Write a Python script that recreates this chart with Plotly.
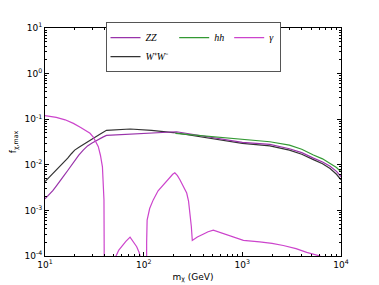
import plotly.graph_objects as go

# W+W- channel
m_ww = [10, 11, 12, 13, 14.2, 15.5, 17, 18.5, 20, 22.5, 25, 28, 31, 36, 42, 55, 73, 120, 200,
        1000, 1900, 3000, 4000, 5250, 6500, 7750, 9000, 10000]
f_ww = [0.0043, 0.0053, 0.0063, 0.0076, 0.0091, 0.011, 0.014, 0.0175, 0.021, 0.025, 0.029, 0.034, 0.038, 0.047, 0.057, 0.059, 0.061, 0.057, 0.051,
        0.0295, 0.026, 0.021, 0.017, 0.013, 0.0105, 0.0083, 0.0062, 0.0047]

# ZZ channel
m_zz = [10, 11, 12, 13, 14.2, 15.5, 17, 18.5, 20, 22, 24.4, 27, 30, 33, 36, 39, 42, 215,
        1000, 1900, 3000, 4000, 5250, 6500, 7750, 9000, 10000]
f_zz = [0.0018, 0.0022, 0.0027, 0.0034, 0.0043, 0.0057, 0.0075, 0.0097, 0.012, 0.0163, 0.021, 0.026, 0.030, 0.034, 0.037, 0.041, 0.044, 0.053,
        0.031, 0.028, 0.0225, 0.0185, 0.014, 0.0115, 0.0093, 0.0072, 0.0055]

# hh channel
m_hh = [210, 1000, 1900, 3000, 4000, 5250, 6500, 7750, 9000, 10000]
f_hh = [0.049, 0.036, 0.032, 0.027, 0.022, 0.0164, 0.0135, 0.0107, 0.0087, 0.007]

# gamma channel (1e-9 = vanishing)
m_gam = [10, 13, 16, 19.4, 23, 26, 28.6, 31, 33, 34.7, 36.5, 38.2, 39.6, 40.2, 40.5, 40.7,
         51, 52.5, 56, 60, 66, 72.8, 79, 85, 90, 91.8, 93,
         106, 107.2, 108.4, 115, 125, 140, 158, 172, 185, 197, 207, 220, 233, 250, 273, 285, 295, 304, 311,
         350, 400, 450, 508, 650, 800, 1025, 1500, 2000, 2600, 3500, 4490, 5300, 6120, 7500]
f_gam = [0.12, 0.11, 0.097, 0.081, 0.066, 0.056, 0.049, 0.040, 0.031, 0.025, 0.016, 0.009, 0.0017, 4e-4, 1e-4, 1e-9,
         1e-9, 1e-4, 1.35e-4, 1.65e-4, 2.1e-4, 2.6e-4, 2.05e-4, 1.6e-4, 1.2e-4, 1e-4, 1e-9,
         1e-9, 2e-4, 6.1e-4, 1.1e-3, 1.7e-3, 2.7e-3, 3.6e-3, 4.6e-3, 5.5e-3, 6.2e-3, 6.7e-3, 5.8e-3, 4.7e-3, 3.6e-3, 2.4e-3, 1.6e-3, 8.7e-4, 4.5e-4, 2.2e-4,
         2.6e-4, 3.0e-4, 3.4e-4, 3.7e-4, 3.1e-4, 2.6e-4, 2.2e-4, 2.05e-4, 1.9e-4, 1.7e-4, 1.45e-4, 1.2e-4, 1.1e-4, 1e-4, 4e-5]

x_tickvals = [10, 100, 1000, 10000]
x_ticktext = ["10<sup>1</sup>", "10<sup>2</sup>", "10<sup>3</sup>", "10<sup>4</sup>"]
y_tickvals = [1e-4, 1e-3, 1e-2, 1e-1, 1, 10]
y_ticktext = ["10<sup>-4</sup>", "10<sup>-3</sup>", "10<sup>-2</sup>", "10<sup>-1</sup>", "10<sup>0</sup>", "10<sup>1</sup>"]

c_zz = "#9933aa"
c_ww = "#333333"
c_hh = "#339933"
c_gam = "#cc44cc"

fig = go.Figure()
fig.add_trace(go.Scatter(x=m_ww, y=f_ww, mode="lines", name="<i>W</i>⁺<i>W</i>⁻",
                         line=dict(color=c_ww, width=1.2), legendgroup="a", legendrank=2))
fig.add_trace(go.Scatter(x=m_zz, y=f_zz, mode="lines", name="<i>ZZ</i>",
                         line=dict(color=c_zz, width=1.2), legendgroup="a", legendrank=1))
fig.add_trace(go.Scatter(x=m_hh, y=f_hh, mode="lines", name="<i>hh</i>",
                         line=dict(color=c_hh, width=1.2), legendgroup="b", legendrank=3))
fig.add_trace(go.Scatter(x=m_gam, y=f_gam, mode="lines", name="<i>γ</i>",
                         line=dict(color=c_gam, width=1.2), legendgroup="c", legendrank=4))

minor_vals = [k * 10 ** e for e in range(-5, 5) for k in range(2, 10)]

axis_common = dict(
    type="log", showline=True, mirror="allticks", linecolor="black", linewidth=1,
    ticks="inside", ticklen=4, tickcolor="black", showgrid=False, zeroline=False,
    tickfont=dict(family="DejaVu Sans", size=9, color="black"), automargin=False,
)

fig.update_xaxes(**axis_common, range=[1, 4], tickmode="array", tickvals=x_tickvals, ticktext=x_ticktext,
                 minor=dict(ticks="inside", ticklen=2, tickcolor="black", tickmode="array", tickvals=minor_vals, showgrid=False),
                 title=dict(text="m<sub>χ</sub> (GeV)", font=dict(family="DejaVu Sans", size=9, color="black"), standoff=4))
fig.update_yaxes(**axis_common, range=[-4, 1], tickmode="array", tickvals=y_tickvals, ticktext=y_ticktext,
                 minor=dict(ticks="inside", ticklen=2, tickcolor="black", tickmode="array", tickvals=minor_vals, showgrid=False),
                 title=dict(text="f<sub>χ,max</sub>", font=dict(family="DejaVu Sans", size=9, color="black"), standoff=6))

fig.update_layout(
    width=371, height=277,
    margin=dict(l=37, r=38, t=20, b=29, autoexpand=False),
    paper_bgcolor="white", plot_bgcolor="white",
    showlegend=True,
    legend=dict(orientation="h", traceorder="grouped", x=0.5, xanchor="center", y=1.026, yanchor="top",
                bgcolor="white", bordercolor="#555555", borderwidth=1, itemwidth=30,
                font=dict(family="Liberation Serif", size=10, color="black"),
                tracegroupgap=0),
)

fig.write_html("out.html")
